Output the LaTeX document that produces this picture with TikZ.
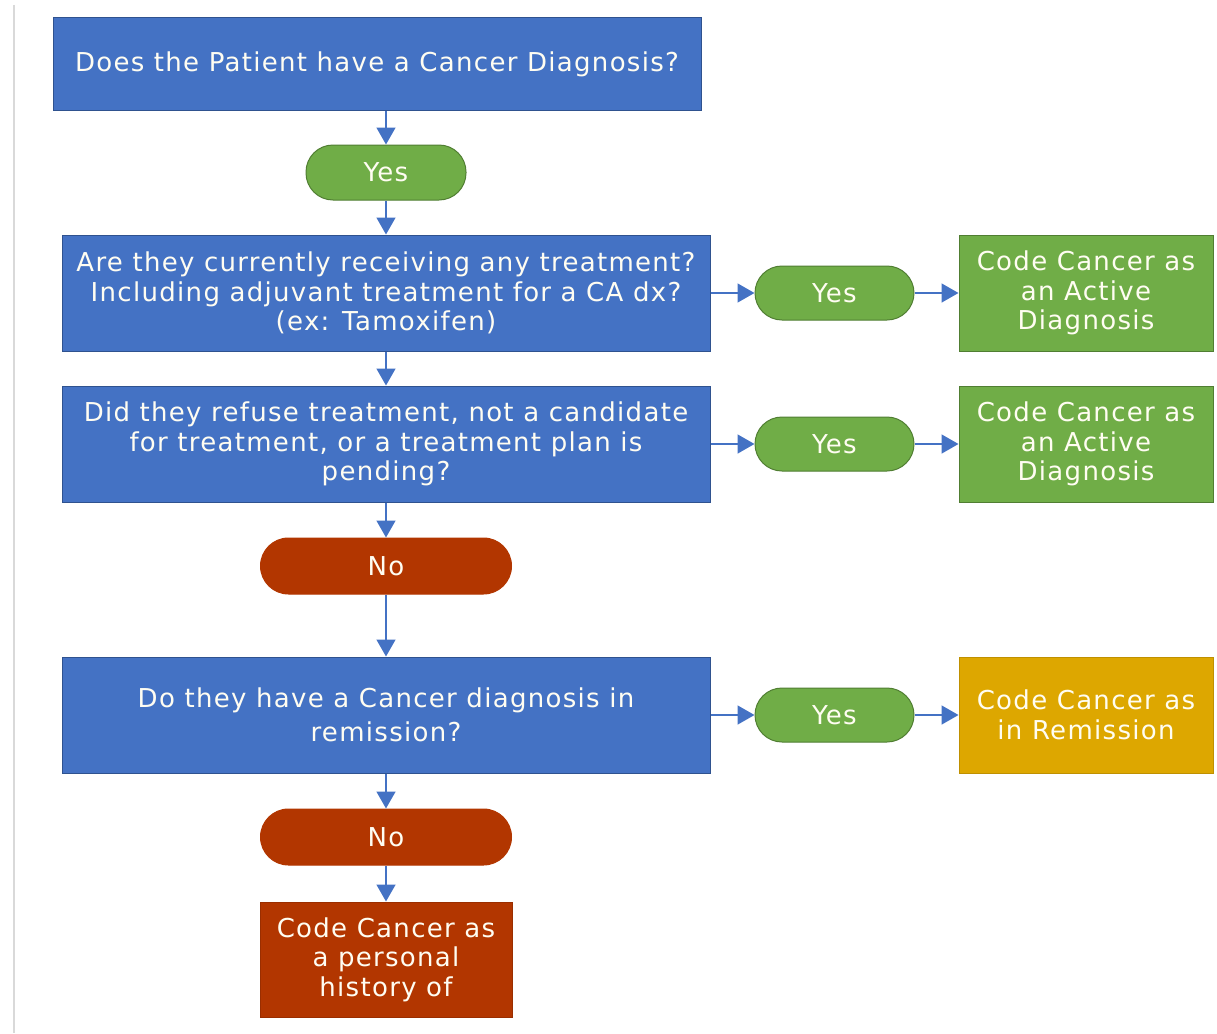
\documentclass[tikz,border=0pt]{standalone}
\usepackage{fontspec}
\setmainfont{DejaVu Sans}[LetterSpace=5]
\usetikzlibrary{arrows.meta}
\definecolor{bblue}{HTML}{4472C4}
\definecolor{bblueD}{HTML}{2F528F}
\definecolor{ggreen}{HTML}{70AD47}
\definecolor{ggreenD}{HTML}{507E32}
\definecolor{rred}{HTML}{B23600}
\definecolor{rredD}{HTML}{9A2E00}
\definecolor{ggold}{HTML}{DDA700}
\definecolor{ggoldD}{HTML}{BF9000}
\definecolor{txt}{HTML}{FFFDF2}
\begin{document}
\begin{tikzpicture}[x=1pt,y=-1pt,
  base/.style={text=txt,align=center,inner sep=0pt,font=\fontsize{26}{29.5}\selectfont,line width=1pt},
  qbox/.style={base,fill=bblue,draw=bblueD,minimum width=648pt,minimum height=116pt},
  yesbox/.style={base,fill=ggreen,draw=ggreenD,rounded corners=27pt,minimum width=159pt,minimum height=54pt},
  nobox/.style={base,fill=rred,draw=rred,rounded corners=28pt,minimum width=251pt,minimum height=56pt},
  actbox/.style={base,fill=ggreen,draw=ggreenD,minimum width=254pt,minimum height=116pt},
  remboxstyle/.style={base,fill=ggold,draw=ggoldD,minimum width=254pt,minimum height=116pt},
  histboxstyle/.style={base,fill=rred,draw=rredD,minimum width=252pt,minimum height=115pt},
  conn/.style={draw=bblue,line width=1.6pt,-{Triangle[length=17pt,width=19pt]}}]
\useasboundingbox (0,0) rectangle (1217,1033);
\draw[gray!30,line width=2pt] (14,5) -- (14,1033);

\node[qbox,minimum height=92pt] (q1) at (377,64) {Does the Patient have a Cancer Diagnosis?};
\node[yesbox,minimum width=160pt,minimum height=55pt] (y1) at (386,172.5) {Yes};
\node[qbox] (q2) at (386,293) {Are they currently receiving any treatment?\\Including adjuvant treatment for a CA dx?\\(ex: Tamoxifen)};
\node[yesbox] (y2) at (834.5,293) {Yes};
\node[actbox] (a1) at (1086,293) {Code Cancer as\\an Active\\Diagnosis};
\node[qbox] (q3) at (386,444) {Did they refuse treatment, not a candidate\\for treatment, or a treatment plan is\\pending?};
\node[yesbox] (y3) at (834.5,444) {Yes};
\node[actbox] (a2) at (1086,444) {Code Cancer as\\an Active\\Diagnosis};
\node[nobox] (n1) at (386,566) {No};
\node[qbox,font=\fontsize{26}{34}\selectfont] (q4) at (386,715) {Do they have a Cancer diagnosis in\\remission?};
\node[yesbox] (y4) at (834.5,715) {Yes};
\node[remboxstyle] (r1) at (1086,715) {Code Cancer as\\in Remission};
\node[nobox] (n2) at (386,837) {No};
\node[histboxstyle] (h1) at (386,959.5) {Code Cancer as\\a personal\\history of};

\draw[conn] (q1.south -| y1) -- (y1.north);
\draw[conn] (y1) -- (q2);
\draw[conn] (q2) -- (q3);
\draw[conn] (q3) -- (n1);
\draw[conn] (n1) -- (q4);
\draw[conn] (q4) -- (n2);
\draw[conn] (n2) -- (h1);
\draw[conn] (q2) -- (y2);
\draw[conn] (y2) -- (a1);
\draw[conn] (q3) -- (y3);
\draw[conn] (y3) -- (a2);
\draw[conn] (q4) -- (y4);
\draw[conn] (y4) -- (r1);
\end{tikzpicture}
\end{document}
